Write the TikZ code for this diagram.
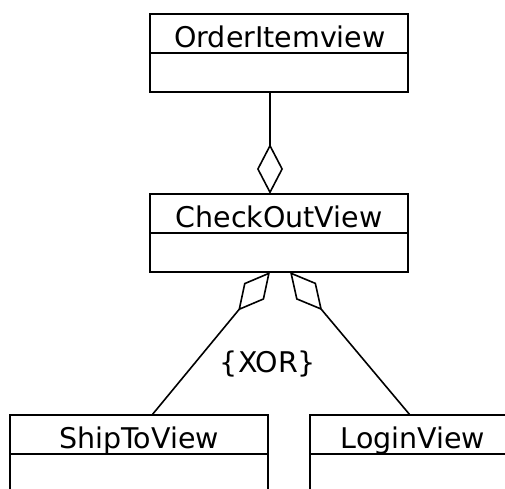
\documentclass[tikz,border=0pt]{standalone}
\usepackage{fontspec}
\setmainfont{DejaVu Sans}
\usetikzlibrary{arrows.meta}
\begin{document}
\begin{tikzpicture}[x=1pt,y=-1pt,
  classbox/.style={draw, line width=1.8pt, minimum width=258pt, minimum height=78pt, inner sep=0pt, outer sep=0pt},
  classname/.style={anchor=base, inner sep=0pt, font=\fontsize{28.5}{34}\selectfont},
  aggr/.style={draw, line width=1.6pt, -{Diamond[open, length=50pt, width=26pt, line width=1.6pt]}}]
\useasboundingbox (0,0) rectangle (505,488);
\clip (0,0) rectangle (505,488);
% boxes
\node[classbox] (oi) at (279,53) {};
\node[classbox] (co) at (279,233) {};
\node[classbox] (st) at (139,454) {};
\node[classbox] (lv) at (439,454) {};
\foreach \b in {oi,co,st,lv} \draw[line width=1.8pt] (\b.west) -- (\b.east);
% names
\node[classname] (oit) at (280,47) {OrderItemview};
\node[classname] (cot) at (279,227) {CheckOutView};
\node[classname] (stt) at (139,448) {ShipToView};
\node[classname] (lvt) at (413,448) {LoginView};
\node[classname] (xor) at (268,372) {\{XOR\}};
% connectors
\draw[aggr] ([xshift=-9pt]oi.south) -- ([xshift=-9pt]co.north);
\draw[aggr] ([xshift=13pt]st.north) -- ([xshift=-9pt]co.south);
\draw[aggr] ([xshift=-29pt]lv.north) -- ([xshift=11pt]co.south);
\end{tikzpicture}
\end{document}
